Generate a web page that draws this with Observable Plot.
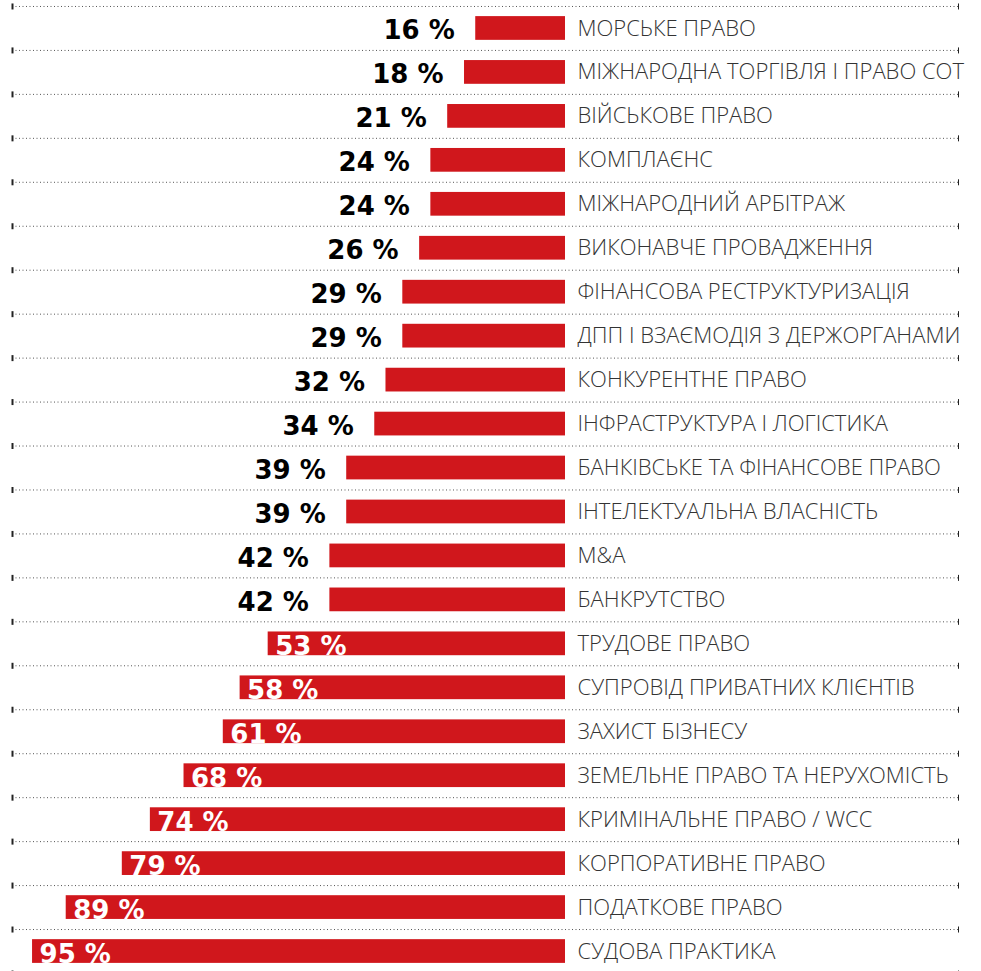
<!DOCTYPE html>
<html>
<head>
<meta charset="utf-8">
<script src="https://cdn.jsdelivr.net/npm/d3@7"></script>
<script src="https://cdn.jsdelivr.net/npm/@observablehq/plot@0.6"></script>
<style>
  html, body { margin: 0; padding: 0; background: #fff; }
  #chart svg { display: block; }
</style>
</head>
<body>
<div id="chart"></div>
<script>
const categories = [
  "МОРСЬКЕ ПРАВО",
  "МІЖНАРОДНА ТОРГІВЛЯ І ПРАВО СОТ",
  "ВІЙСЬКОВЕ ПРАВО",
  "КОМПЛАЄНС",
  "МІЖНАРОДНИЙ АРБІТРАЖ",
  "ВИКОНАВЧЕ ПРОВАДЖЕННЯ",
  "ФІНАНСОВА РЕСТРУКТУРИЗАЦІЯ",
  "ДПП І ВЗАЄМОДІЯ З ДЕРЖОРГАНАМИ",
  "КОНКУРЕНТНЕ ПРАВО",
  "ІНФРАСТРУКТУРА І ЛОГІСТИКА",
  "БАНКІВСЬКЕ ТА ФІНАНСОВЕ ПРАВО",
  "ІНТЕЛЕКТУАЛЬНА ВЛАСНІСТЬ",
  "M&A",
  "БАНКРУТСТВО",
  "ТРУДОВЕ ПРАВО",
  "СУПРОВІД ПРИВАТНИХ КЛІЄНТІВ",
  "ЗАХИСТ БІЗНЕСУ",
  "ЗЕМЕЛЬНЕ ПРАВО ТА НЕРУХОМІСТЬ",
  "КРИМІНАЛЬНЕ ПРАВО / WCC",
  "КОРПОРАТИВНЕ ПРАВО",
  "ПОДАТКОВЕ ПРАВО",
  "СУДОВА ПРАКТИКА"
];
const values = [16, 18, 21, 24, 24, 26, 29, 29, 32, 34, 39, 39, 42, 42, 53, 58, 61, 68, 74, 79, 89, 95];

const data = categories.map((c, i) => ({cat: c, value: values[i], label: values[i] + " %"}));
const inside = data.filter(d => d.value >= 50);
const outside = data.filter(d => d.value < 50);
const lastCat = categories[categories.length - 1];

const RED = "#d0171c";
const tickSymbol = {
  draw(context, size) {
    context.moveTo(0, -3);
    context.lineTo(0, 3);
  }
};

const chart = Plot.plot({
  width: 981,
  height: 971,
  marginTop: 0,
  marginBottom: 0,
  marginLeft: 12,
  marginRight: 23,
  style: {background: "#fff", overflow: "visible"},
  x: {domain: [0, 100], range: [565, 4], axis: null},
  y: {domain: categories, range: [6, 973], round: false, paddingInner: 0.46, paddingOuter: 0.23, axis: null},
  marks: [
    // dotted separators
    Plot.ruleY(categories, {y: d => d, dy: -22, stroke: "#555", strokeWidth: 1, strokeDasharray: "1,2.5"}),
    Plot.ruleY([lastCat], {y: d => d, dy: 22, stroke: "#555", strokeWidth: 1, strokeDasharray: "1,2.5"}),
    // end ticks
    Plot.dot(categories, {y: d => d, dy: -22, frameAnchor: "left", symbol: tickSymbol, stroke: "#222", strokeWidth: 2, fill: "none", r: 3}),
    Plot.dot([lastCat], {y: d => d, dy: 22, frameAnchor: "left", symbol: tickSymbol, stroke: "#222", strokeWidth: 2, fill: "none", r: 3}),
    Plot.dot(categories, {y: d => d, dy: -22, frameAnchor: "right", symbol: tickSymbol, stroke: "#222", strokeWidth: 1, fill: "none", r: 3}),
    Plot.dot([lastCat], {y: d => d, dy: 22, frameAnchor: "right", symbol: tickSymbol, stroke: "#222", strokeWidth: 1, fill: "none", r: 3}),
    // bars
    Plot.barX(data, {x1: 0, x2: "value", y: "cat", fill: RED}),
    // category labels
    Plot.text(data, {
      x: () => 0, y: "cat", text: "cat", textAnchor: "start", dx: 12,
      fill: "#333", fontSize: 22, fontWeight: 300,
      fontFamily: "'Open Sans', sans-serif"
    }),
    // value labels outside (black)
    Plot.text(outside, {
      x: "value", y: "cat", text: "label", textAnchor: "end", lineAnchor: "bottom",
      dx: -21, dy: 11, fill: "#000", fontSize: 26, fontWeight: 900,
      fontFamily: "'DejaVu Sans', sans-serif"
    }),
    // value labels inside (white)
    Plot.text(inside, {
      x: "value", y: "cat", text: "label", textAnchor: "start", lineAnchor: "bottom",
      dx: 7, dy: 11, fill: "#fff", fontSize: 26, fontWeight: 900,
      fontFamily: "'DejaVu Sans', sans-serif"
    })
  ]
});

document.getElementById("chart").appendChild(chart);
</script>
</body>
</html>
